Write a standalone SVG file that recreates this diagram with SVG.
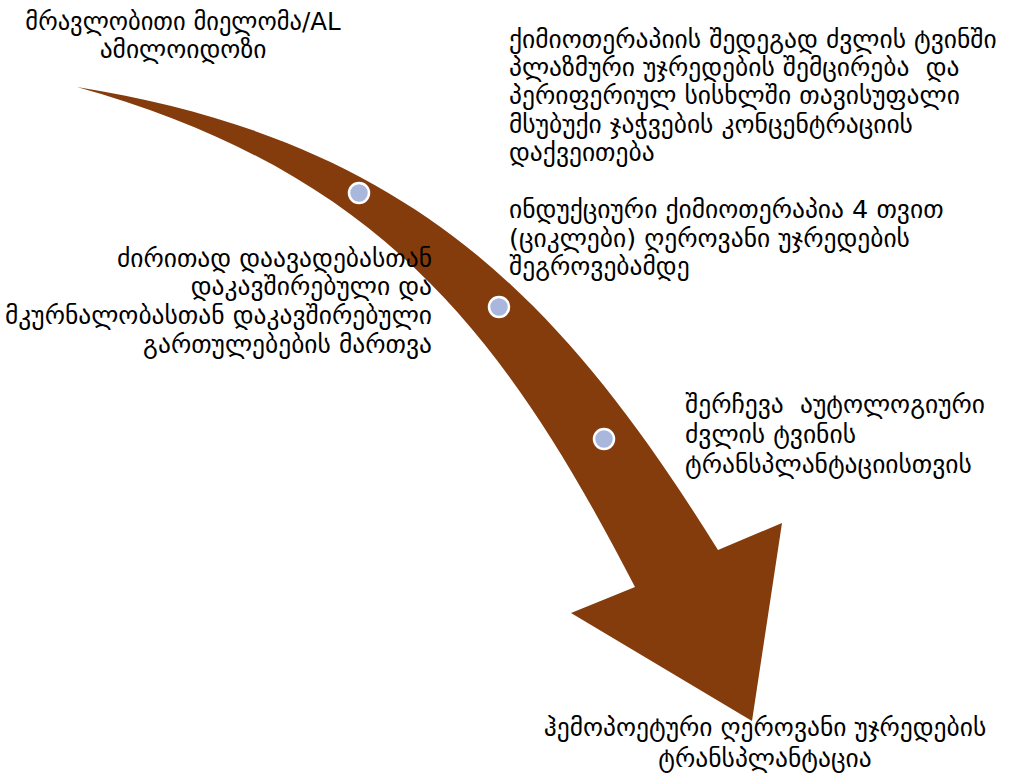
<svg xmlns="http://www.w3.org/2000/svg" width="1014" height="783" viewBox="0 0 1014 783">
<style>
.t{font-family:"DejaVu Sans","Noto Sans",sans-serif;font-size:25.5px;fill:#000;white-space:pre}
.dot{fill:#aab7dc;stroke:#fff;stroke-width:2.5}
</style>
<rect width="1014" height="783" fill="#fff"/>
<g id="arrow">
<path d="M77,87 C407,140 559,295 718,550 L782,523 L752,721 L571,613 L635,587 C506,338 384,173 77,87 Z" fill="#843c0c"/>
</g>
<g id="dots">
<circle class="dot" cx="359" cy="193" r="10"/>
<circle class="dot" cx="499" cy="307" r="10"/>
<circle class="dot" cx="604" cy="439" r="10"/>
</g>
<g id="n1"><text class="t" text-anchor="middle"><tspan x="183" y="30" font-size="24.5">მრავლობითი მიელომა/AL</tspan><tspan x="183" y="58">ამილოიდოზი</tspan></text></g>
<g id="n2"><text class="t"><tspan x="509" y="48">ქიმიოთერაპიის შედეგად ძვლის ტვინში</tspan><tspan x="509" y="76">პლაზმური უჯრედების შემცირება  და</tspan><tspan x="509" y="104">პერიფერიულ სისხლში თავისუფალი</tspan><tspan x="509" y="133">მსუბუქი ჯაჭვების კონცენტრაციის</tspan><tspan x="509" y="161">დაქვეითება</tspan></text></g>
<g id="n3"><text class="t"><tspan x="509" y="218">ინდუქციური ქიმიოთერაპია 4 თვით</tspan><tspan x="509" y="247">(ციკლები) ღეროვანი უჯრედების</tspan><tspan x="509" y="275">შეგროვებამდე</tspan></text></g>
<g id="n4"><text class="t" text-anchor="end"><tspan x="432" y="267">ძირითად დაავადებასთან</tspan><tspan x="432" y="295">დაკავშირებული და</tspan><tspan x="432" y="324">მკურნალობასთან დაკავშირებული</tspan><tspan x="432" y="353">გართულებების მართვა</tspan></text></g>
<g id="n5"><text class="t"><tspan x="685" y="413">შერჩევა  აუტოლოგიური</tspan><tspan x="685" y="443">ძვლის ტვინის</tspan><tspan x="685" y="473">ტრანსპლანტაციისთვის</tspan></text></g>
<g id="n6"><text class="t" text-anchor="middle"><tspan x="765" y="736">ჰემოპოეტური ღეროვანი უჯრედების</tspan><tspan x="765" y="767">ტრანსპლანტაცია</tspan></text></g>
</svg>
